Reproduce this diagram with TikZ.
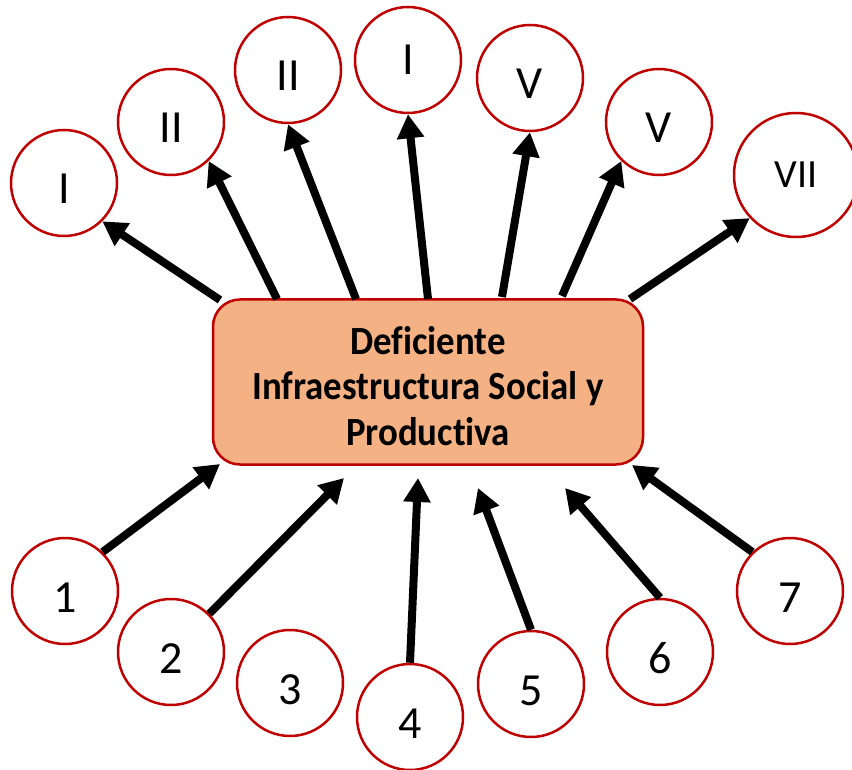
\documentclass[tikz,border=0pt]{standalone}
\usepackage{fontspec}
\setmainfont{Carlito}[Ligatures=NoCommon]
\newfontfamily\boxfont{Carlito}[Ligatures=NoCommon, FakeStretch=0.92]
\usepackage{tikz}
\usetikzlibrary{arrows.meta}

\definecolor{boxfill}{HTML}{F4B183}
\definecolor{boxline}{HTML}{C00000}

\tikzset{
  circ/.style={circle, draw=boxline, line width=2.5pt, fill=white, minimum size=106pt, inner sep=0pt,
    font=\fontsize{46}{50}\selectfont, text height=42pt, text depth=0pt},
  problem/.style={rectangle, rounded corners=27pt, draw=boxline, line width=2.5pt, fill=boxfill,
    minimum width=430pt, minimum height=165pt, align=center, font=\boxfont\fontsize{40}{45.5}\selectfont\bfseries},
  arr/.style={line width=8pt, -{Triangle[length=24pt,width=26pt]}}
}

\begin{document}
\begin{tikzpicture}[x=1pt, y=-1pt]
\useasboundingbox (0,0) rectangle (852,770);

%draw central box
\node[problem] (box) at (428,382) {\rule{0pt}{36pt}Deficiente\\Infraestructura Social y\\Productiva};

%draw top circles
\foreach \n/\x/\y/\t in {t1/64/183/I, t2/171/122/II, t3/288/70/II, t5/530/78/V, t6/659/122/V}
   \node[circ] (\n) at (\x,\y) {\t};
\node[circ, text height=30pt] (t4) at (408,60) {I};
\node[circ, minimum size=124pt, font=\fontsize{40}{44}\selectfont, text height=26pt] (t7) at (796,175) {VII};

%draw bottom circles
\foreach \n/\x/\y/\t in {b1/65/591/1, b2/171/652/2, b3/290/683/3, b4/410/717/4, b5/531/684/5, b6/660/652/6, b7/790/591/7}
   \node[circ] (\n) at (\x,\y) {\t};

%free ends of arrows
\coordinate (s1) at (220,300);
\coordinate (s2) at (277,299);
\coordinate (s3) at (356,299);
\coordinate (s4) at (428,299);
\coordinate (s5) at (502,297);
\coordinate (s6) at (562,296);
\coordinate (s7) at (630,299);
\coordinate (e1) at (220,464);
\coordinate (e2) at (344,478);
\coordinate (e4) at (418,478);
\coordinate (e5) at (478,488);
\coordinate (e6) at (565,488);
\coordinate (e7) at (632,465);

%draw top arrows
\foreach \s/\t in {s1/t1.-45, s2/t2.-46, s3/t3.south, s4/t4.south, s5/t5.south, s6/t6.-134, s7/t7.-137}
   \draw[arr] (\s) -- (\t);

%draw bottom arrows
\foreach \b/\e in {b1.46/e1, b2.45/e2, b4.north/e4, b5.north/e5, b6.north/e6, b7.134/e7}
   \draw[arr] (\b) -- (\e);
\end{tikzpicture}
\end{document}
